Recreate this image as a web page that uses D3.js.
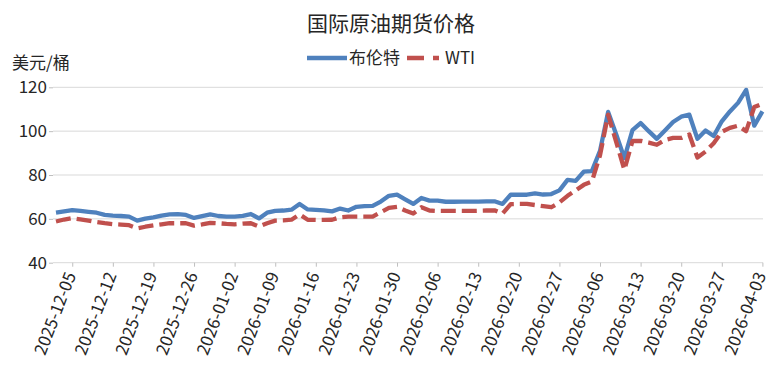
<!DOCTYPE html>
<html><head><meta charset="utf-8">
<script src="https://cdn.jsdelivr.net/npm/d3@7"></script>
<style>
body{margin:0;background:#fff}
svg{display:block}
text{font-family:"Noto Sans CJK SC","Noto Sans",sans-serif;fill:#262626}
</style>
</head><body><svg id="c" width="781" height="379"></svg>
<script>
const title = "国际原油期货价格";
const unitLabel = "美元/桶";
const seriesNames = ["布伦特", "WTI"];

const dates = [
"2025-12-03","2025-12-04","2025-12-05","2025-12-08","2025-12-09","2025-12-10","2025-12-11","2025-12-12",
"2025-12-15","2025-12-16","2025-12-17","2025-12-18","2025-12-19","2025-12-22","2025-12-23","2025-12-24",
"2025-12-25","2025-12-26","2025-12-29","2025-12-30","2025-12-31",
"2026-01-01","2026-01-02","2026-01-05","2026-01-06","2026-01-07","2026-01-08","2026-01-09","2026-01-12",
"2026-01-13","2026-01-14","2026-01-15","2026-01-16","2026-01-19","2026-01-20","2026-01-21","2026-01-22",
"2026-01-23","2026-01-26","2026-01-27","2026-01-28","2026-01-29","2026-01-30",
"2026-02-02","2026-02-03","2026-02-04","2026-02-05","2026-02-06","2026-02-09","2026-02-10","2026-02-11",
"2026-02-12","2026-02-13","2026-02-16","2026-02-17","2026-02-18","2026-02-19","2026-02-20","2026-02-23",
"2026-02-24","2026-02-25","2026-02-26","2026-02-27",
"2026-03-02","2026-03-03","2026-03-04","2026-03-05","2026-03-06","2026-03-09","2026-03-10","2026-03-11",
"2026-03-12","2026-03-13","2026-03-16","2026-03-17","2026-03-18","2026-03-19","2026-03-20","2026-03-23",
"2026-03-24","2026-03-25","2026-03-26","2026-03-27","2026-03-30","2026-03-31",
"2026-04-01","2026-04-02","2026-04-03"
];

const brent = [
62.8,63.4,64.0,63.6,63.2,62.8,61.8,61.5,61.3,61.0,59.2,60.1,60.7,61.5,62.0,62.2,
61.8,60.4,61.2,62.0,61.3,
61.0,61.0,61.4,62.2,60.2,62.8,63.6,63.8,64.2,66.8,64.3,64.1,63.9,63.4,64.7,63.8,
65.5,65.8,65.9,67.9,70.5,71.0,
68.9,66.8,69.5,68.3,68.3,67.8,67.8,67.9,67.9,67.9,68.0,68.0,66.8,71.0,71.0,71.0,
71.6,71.1,71.3,73.0,
77.8,77.3,81.5,81.8,91.0,108.8,98.5,87.7,100.5,103.7,100.0,96.5,100.3,104.2,106.6,107.5,
96.5,100.3,97.8,104.5,109.0,112.9,
118.8,102.5,109.0
];

const wti = [
58.8,59.7,60.3,59.8,59.2,58.5,58.0,57.6,57.4,57.1,55.7,56.4,57.0,57.5,58.0,58.0,
58.0,56.9,57.5,58.2,58.0,
57.7,57.5,57.8,58.0,56.5,58.0,59.2,59.3,59.6,62.0,59.6,59.5,59.5,59.6,60.7,61.0,
61.0,61.0,61.0,63.0,65.0,65.5,
63.8,62.4,65.3,63.8,63.6,63.6,63.6,63.6,63.6,63.7,63.8,63.9,62.4,66.7,66.8,66.8,
66.3,65.8,65.3,67.5,
70.5,73.0,75.5,77.0,89.0,107.5,95.0,82.4,95.5,95.6,94.8,93.8,96.0,96.9,96.9,98.5,
88.0,90.7,94.5,99.7,101.5,102.5,
100.0,111.0,112.5
];

const tickLabels = [
"2025-12-05","2025-12-12","2025-12-19","2025-12-26","2026-01-02","2026-01-09","2026-01-16",
"2026-01-23","2026-01-30","2026-02-06","2026-02-13","2026-02-20","2026-02-27","2026-03-06",
"2026-03-13","2026-03-20","2026-03-27","2026-04-03"
];
const yTicks = [40, 60, 80, 100, 120];

const svg = d3.select("#c");
const plotL = 53, plotR = 763, plotT = 87.3, plotB = 262.7;

const x = d3.scaleLinear().domain([0, dates.length - 1]).range([56, 762.4]);
const y = d3.scaleLinear().domain([40, 120]).range([plotB, plotT]);

// gridlines
svg.append("g").selectAll("line").data(yTicks).join("line")
  .attr("x1", plotL).attr("x2", plotR)
  .attr("y1", d => y(d)).attr("y2", d => y(d))
  .attr("stroke", "#d9d9d9").attr("stroke-width", 1);

// y axis
const yAxis = svg.append("g").attr("transform", `translate(${plotL},0)`)
  .call(d3.axisLeft(y).tickValues(yTicks).tickSize(4).tickPadding(2));
yAxis.select(".domain").remove();
yAxis.selectAll(".tick line").attr("stroke", "#bfbfbf");
yAxis.selectAll(".tick text").attr("font-size", 17).attr("fill", "#262626")
  .style("font-family", '"Noto Sans CJK SC","Noto Sans",sans-serif');

// x axis
const tickIdx = tickLabels.map(t => dates.indexOf(t));
const xAxis = svg.append("g").attr("transform", `translate(0,${plotB})`)
  .call(d3.axisBottom(x).tickValues(tickIdx).tickFormat(i => dates[i]).tickSize(4).tickPadding(0));
xAxis.select(".domain").remove();
xAxis.selectAll(".tick line").attr("stroke", "#bfbfbf");
xAxis.selectAll(".tick text")
  .attr("font-size", 17).attr("fill", "#262626")
  .style("font-family", '"Noto Sans CJK SC","Noto Sans",sans-serif')
  .attr("text-anchor", "end")
  .attr("x", 0).attr("y", 0).attr("dy", "0.35em")
  .attr("transform", "translate(-2,10) rotate(-69)");

// lines
const line = d3.line().x((d, i) => x(i)).y(d => y(d));
svg.append("path").datum(brent).attr("d", line)
  .attr("fill", "none").attr("stroke", "#4F81BD").attr("stroke-width", 4.3)
  .attr("stroke-linejoin", "round");
svg.append("path").datum(wti).attr("d", line)
  .attr("fill", "none").attr("stroke", "#C0504D").attr("stroke-width", 4.3)
  .attr("stroke-dasharray", "15,6").attr("stroke-linejoin", "round");

// title
svg.append("text").attr("x", 391).attr("y", 31).attr("text-anchor", "middle")
  .attr("font-size", 21).text(title);

// unit label
svg.append("text").attr("x", 12).attr("y", 69).attr("font-size", 17).text(unitLabel);

// legend
const lg = svg.append("g");
lg.append("line").attr("x1", 307).attr("x2", 347).attr("y1", 58).attr("y2", 58)
  .attr("stroke", "#4F81BD").attr("stroke-width", 4.3);
lg.append("text").attr("x", 349).attr("y", 64).attr("font-size", 17).text(seriesNames[0]);
lg.append("line").attr("x1", 407).attr("x2", 439).attr("y1", 58).attr("y2", 58)
  .attr("stroke", "#C0504D").attr("stroke-width", 4.3).attr("stroke-dasharray", "17,9");
lg.append("text").attr("x", 445).attr("y", 64).attr("font-size", 17).text(seriesNames[1]);
</script></body></html>
